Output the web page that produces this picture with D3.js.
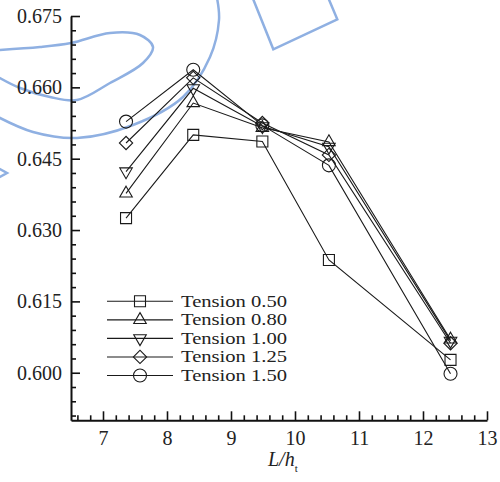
<!DOCTYPE html>
<meta charset="utf-8">
<style>
body { margin: 0; background: #fff; }
svg { display: block; font-family: "Liberation Serif", "Times New Roman", Times, "DejaVu Serif", serif; }
.series { fill: none; stroke: #1a1a1a; stroke-width: 1.1; }
.marker { fill: none; stroke: #1a1a1a; stroke-width: 1.1; }
.axis path, .axis line { stroke: #111; }
.axis path { stroke-width: 2; }
.axis line { stroke-width: 1.6; }
.axis text { font-family: "Liberation Serif", "Times New Roman", Times, "DejaVu Serif", serif; font-size: 20px; fill: #222; }
.legend text { font-size: 16px; fill: #222; }
.watermark { fill: none; stroke: #8fb0e2; stroke-width: 2.5; }
</style>
<svg width="500" height="482"></svg>

<script src="https://d3js.org/d3.v7.min.js"></script>
<script>

// L/h_t positions of the five configurations
var lh = [7.36, 8.41, 9.49, 10.53, 12.43];

// series values
var tension050 = [0.6325, 0.6500, 0.6486, 0.6237, 0.6027];
var tension080 = [0.6377, 0.6567, 0.6515, 0.6485, 0.6070];
var tension100 = [0.6423, 0.6598, 0.6518, 0.6475, 0.6067];
var tension125 = [0.6483, 0.6620, 0.6525, 0.6458, 0.6062];
var tension150 = [0.6528, 0.6637, 0.6520, 0.6436, 0.5998];

var seriesNames = ["Tension 0.50", "Tension 0.80", "Tension 1.00", "Tension 1.25", "Tension 1.50"];
var seriesValues = [tension050, tension080, tension100, tension125, tension150];

var yTicks = [0.600, 0.615, 0.630, 0.645, 0.660, 0.675];
var xTicks = [7, 8, 9, 10, 11, 12, 13];

var svg = d3.select("svg");

var x = d3.scaleLinear().domain([6.5, 13]).range([71, 487]);
var y = d3.scaleLinear().domain([0.59, 0.675]).range([420.3, 16]);

// faint blue watermark strokes that sit behind the chart
var wm = d3.line().curve(d3.curveCatmullRom);
svg.append("path").attr("class", "watermark")
    .attr("d", wm([[-2, 50], [40, 47], [71, 43], [110, 33], [140, 35], [153, 47], [143, 63], [110, 83], [77, 100], [50, 97], [20, 88], [-2, 77]]));
svg.append("path").attr("class", "watermark")
    .attr("d", wm([[-2, 117], [33, 132], [77, 138], [133, 125], [183, 97], [210, 57], [219, 20], [217, -2]]));
svg.append("path").attr("class", "watermark")
    .attr("d", "M-2,168L7,173L-2,178");
svg.append("path").attr("class", "watermark")
    .attr("d", "M252.7,-2L273.3,49.3L337.3,19.3L328.3,-2");

// axes
var yAxis = d3.axisLeft(y)
    .tickValues(yTicks)
    .tickFormat(d3.format(".3f"))
    .tickSizeInner(-9)
    .tickSizeOuter(0)
    .tickPadding(9);

var yMinor = d3.range(0, 29).map(function(i) { return 0.591 + i * 0.003; })
    .filter(function(v) { return yTicks.every(function(t) { return Math.abs(t - v) > 1e-6; }); });

svg.append("g").attr("class", "axis")
    .attr("transform", "translate(71,0)")
    .call(d3.axisLeft(y).tickValues(yMinor).tickFormat("").tickSizeInner(-5).tickSizeOuter(0))
    .select(".domain").remove();

svg.append("g").attr("class", "axis")
    .attr("transform", "translate(71,0)")
    .call(yAxis);

var xMinor = d3.range(0, 33).map(function(i) { return 6.6 + i * 0.2; })
    .filter(function(v) { return v < 12.95 && xTicks.every(function(t) { return Math.abs(t - v) > 1e-6; }); });

svg.append("g").attr("class", "axis")
    .attr("transform", "translate(0,420.3)")
    .call(d3.axisBottom(x).tickValues(xMinor).tickFormat("").tickSizeInner(-5).tickSizeOuter(0))
    .select(".domain").remove();

svg.append("g").attr("class", "axis")
    .attr("transform", "translate(0,420.3)")
    .call(d3.axisBottom(x).tickValues(xTicks).tickFormat(d3.format("d")).tickSizeInner(-9).tickSizeOuter(0).tickPadding(11));

svg.selectAll(".axis").attr("font-family", null);

// axis title L/h_t
var title = svg.append("text")
    .attr("x", 268).attr("y", 466)
    .style("font-size", "20px").style("fill", "#222");
title.append("tspan").style("font-style", "italic").text("L/h");
title.append("tspan").attr("dy", 6).style("font-size", "11px").text("t");

// marker shapes
var shapes = [
  { type: d3.symbolSquare, size: 121, rot: 0 },
  { type: d3.symbolTriangle, size: 68, rot: 0 },
  { type: d3.symbolTriangle, size: 68, rot: 180 },
  { type: d3.symbolSquare, size: 88, rot: 45 },
  { type: d3.symbolCircle, size: 133, rot: 0 }
];

var line = d3.line()
    .x(function(d, i) { return x(lh[i]); })
    .y(function(d) { return y(d); });

var plot = svg.append("g");

seriesValues.forEach(function(vals, s) {
  plot.append("path").attr("class", "series").attr("d", line(vals));
  plot.selectAll(".m" + s)
    .data(vals)
    .enter().append("path")
    .attr("class", "marker m" + s)
    .attr("d", d3.symbol().type(shapes[s].type).size(shapes[s].size))
    .attr("transform", function(d, i) {
      return "translate(" + x(lh[i]) + "," + y(d) + ") rotate(" + shapes[s].rot + ")";
    });
});

// legend
var legend = svg.append("g").attr("class", "legend");
var rowY = d3.scaleLinear().domain([0, 4]).range([301.3, 375.5]);

seriesNames.forEach(function(name, s) {
  var g = legend.append("g").attr("transform", "translate(0," + rowY(s) + ")");
  g.append("line").attr("class", "series").attr("x1", 107).attr("x2", 173).attr("y1", 0).attr("y2", 0);
  g.append("path").attr("class", "marker")
    .attr("d", d3.symbol().type(shapes[s].type).size(shapes[s].size))
    .attr("transform", "translate(140,0) rotate(" + shapes[s].rot + ")");
  g.append("text").attr("x", 181).attr("y", 5.5)
    .attr("textLength", 106).attr("lengthAdjust", "spacingAndGlyphs")
    .text(name);
});

</script>
